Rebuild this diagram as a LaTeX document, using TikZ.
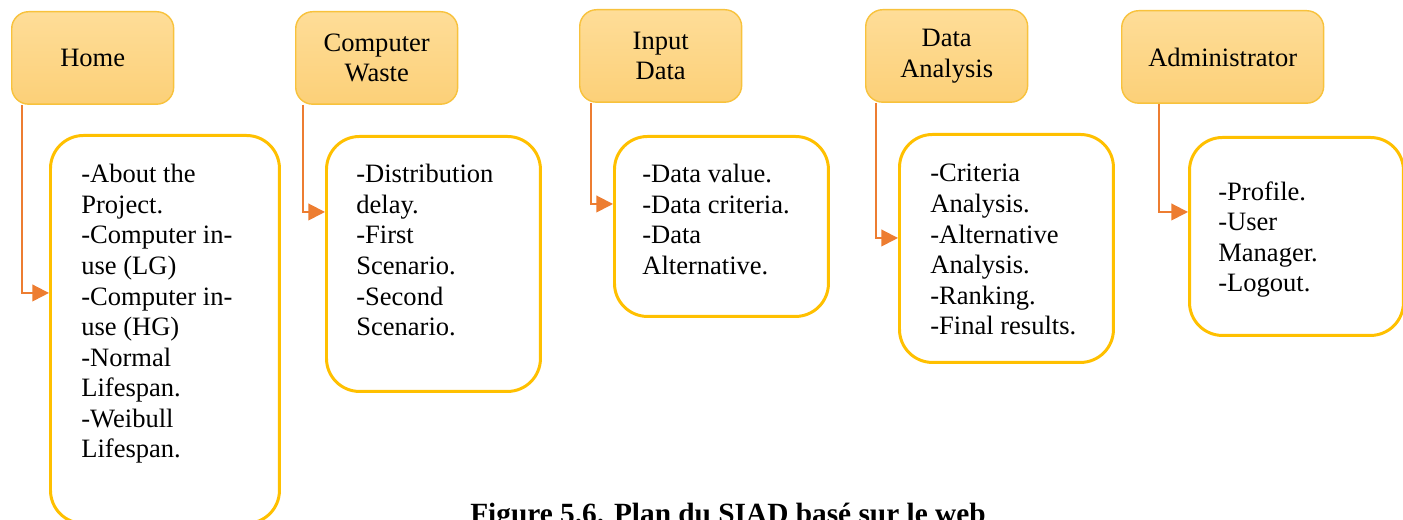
\documentclass[tikz,border=0pt]{standalone}
\usepackage{fontspec}
\setmainfont{Liberation Serif}
\usetikzlibrary{arrows.meta, positioning, calc}

\definecolor{headTop}{HTML}{FEDD98}
\definecolor{headBot}{HTML}{FCD078}
\definecolor{headLine}{HTML}{F8C23C}
\definecolor{boxLine}{HTML}{FFC000}
\definecolor{linkOrange}{HTML}{ED7D31}

\begin{document}
\begin{tikzpicture}[
    x=0.02cm, y=-0.02cm,
    font=\fontsize{15.1pt}{17.4pt}\selectfont,
    menu_head/.style={
        draw=headLine, line width=0.8pt,
        top color=headTop, bottom color=headBot,
        rounded corners=0.34cm,
        minimum width=3.24cm, minimum height=1.85cm,
        align=center, inner sep=0pt, anchor=north west
    },
    menu_box/.style={
        draw=boxLine, line width=1.7pt, fill=white,
        rounded corners=0.66cm,
        minimum width=4.28cm, inner sep=0pt, anchor=north west
    },
    menu_list/.style={
        align=left, inner sep=0pt, anchor=north west
    },
    menu_link/.style={
        -{Triangle[length=9.5pt, width=9.5pt]},
        draw=linkOrange, line width=1.1pt
    }
]

\path[use as bounding box, fill=white] (0,0) rectangle (1403,520);

%% ── Home ───────────────────────────────────
\node[menu_head] (home) at (11,11) {Home};
\node[menu_box, minimum width=4.58cm, minimum height=7.76cm]
    (homeBox) at (49,134) {};
\node[menu_list] (homeList) at ([shift={(0.64cm,-0.60cm)}]homeBox.north west)
    {-About the\\Project.\\-Computer in-\\use (LG)\\-Computer in-\\use (HG)\\%
     -Normal\\Lifespan.\\-Weibull\\Lifespan.};
\draw[menu_link] ([xshift=0.22cm]home.south west)
    |- ([yshift=-3.18cm]homeBox.north west);

%% ── Computer Waste ─────────────────────────
\node[menu_head] (waste) at (295,11) {Computer\\Waste};
\node[menu_box, minimum height=5.10cm] (wasteBox) at (325,135) {};
\node[menu_list] (wasteList) at ([shift={(0.62cm,-0.58cm)}]wasteBox.north west)
    {-Distribution\\delay.\\-First\\Scenario.\\-Second\\Scenario.};
\draw[menu_link] ([xshift=0.16cm]waste.south west)
    |- ([yshift=-1.54cm]wasteBox.north west);

%% ── Input Data ─────────────────────────────
\node[menu_head] (input) at (579,9) {Input\\Data};
\node[menu_box, minimum height=3.60cm] (inputBox) at (613,135) {};
\node[menu_list] (inputList) at ([shift={(0.58cm,-0.58cm)}]inputBox.north west)
    {-Data value.\\-Data criteria.\\-Data\\Alternative.};
\draw[menu_link] ([xshift=0.24cm]input.south west)
    |- ([yshift=-1.38cm]inputBox.north west);

%% ── Data Analysis ──────────────────────────
\node[menu_head] (analysis) at (865,9) {Data\\Analysis};
\node[menu_box, minimum height=4.56cm] (analysisBox) at (898,133) {};
\node[menu_list] (analysisList) at ([shift={(0.64cm,-0.62cm)}]analysisBox.north west)
    {-Criteria\\Analysis.\\-Alternative\\Analysis.\\-Ranking.\\-Final results.};
\draw[menu_link] ([xshift=0.22cm]analysis.south west)
    |- ([yshift=-2.10cm]analysisBox.north west);

%% ── Administrator ──────────────────────────
\node[menu_head, minimum width=4.04cm] (admin) at (1121,10) {Administrator};
\node[menu_box, minimum height=3.96cm] (adminBox) at (1188,136) {};
\node[menu_list] (adminList) at ([shift={(0.60cm,-0.90cm)}]adminBox.north west)
    {-Profile.\\-User\\Manager.\\-Logout.};
\draw[menu_link] ([xshift=0.76cm]admin.south west)
    |- ([yshift=-1.52cm]adminBox.north west);

%% ── Caption ────────────────────────────────
\node[anchor=base, font=\fontsize{16.7pt}{19pt}\selectfont\bfseries]
    (caption) at (728,523) {Figure 5.6. Plan du SIAD basé sur le web};

\end{tikzpicture}
\end{document}
